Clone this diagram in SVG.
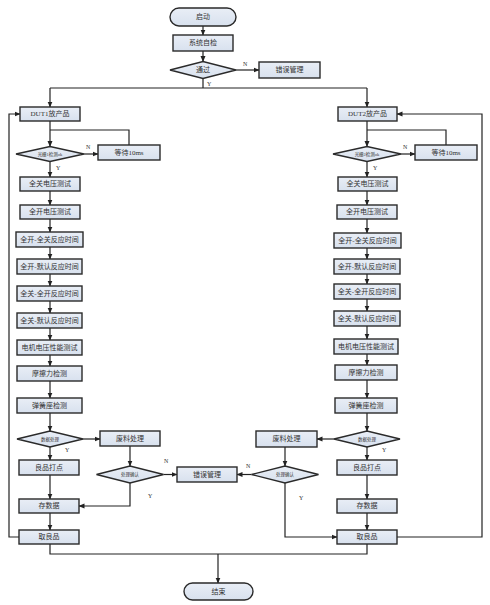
<svg xmlns="http://www.w3.org/2000/svg" width="490" height="605" viewBox="0 0 490 605">
<defs>
<linearGradient id="g" x1="0" y1="0" x2="0" y2="1">
<stop offset="0" stop-color="#e9eef6"/>
<stop offset="1" stop-color="#d8e1ee"/>
</linearGradient>
<marker id="a" markerWidth="6" markerHeight="6" refX="5.5" refY="3" orient="auto" markerUnits="userSpaceOnUse">
<path d="M0,0.5 L6,3 L0,5.5 Z" fill="#222"/>
</marker>
<style>
.b{fill:url(#g);stroke:#2a2a2a;stroke-width:1.4}
.t{font-family:"Liberation Serif","Noto Sans CJK SC",serif;font-size:7px;fill:#333;text-anchor:middle;dominant-baseline:central}
.s{font-size:4.5px}
.l{font-family:"Liberation Serif","Noto Sans CJK SC",serif;font-size:6px;fill:#333}
.c{fill:none;stroke:#222;stroke-width:1.2}
.c.m{marker-end:url(#a)}
</style>
</defs>
<rect width="490" height="605" fill="#fff"/>

<g id="connectors">
<path class="c m" d="M203,26 V35"/>
<path class="c m" d="M203,51 V61.5"/>
<path class="c m" d="M236,70 H259"/>
<path class="c" d="M203,78.5 V88 M50,88 H367"/>
<path class="c m" d="M50,88 V107"/>
<path class="c m" d="M367,88 V107"/>
<!-- left column -->
<path class="c m" d="M50,121 V146.5"/>
<path class="c" d="M129,145 V130 H50"/>
<path class="c m" d="M84,154 H98"/>
<path class="c m" d="M50,161.5 V177"/>
<path class="c m" d="M50,191 V205"/>
<path class="c m" d="M50,219 V232"/>
<path class="c m" d="M50,247 V259"/>
<path class="c m" d="M50,274 V286"/>
<path class="c m" d="M50,301 V313"/>
<path class="c m" d="M50,328 V340"/>
<path class="c m" d="M50,355 V366"/>
<path class="c m" d="M50,381 V398"/>
<path class="c m" d="M50,413 V431"/>
<path class="c m" d="M83,439 H100"/>
<path class="c m" d="M50,447 V460"/>
<path class="c m" d="M50,475 V499"/>
<path class="c m" d="M50,513 V530"/>
<path class="c m" d="M130,446 V466"/>
<path class="c m" d="M163.5,474.5 H177"/>
<path class="c m" d="M130,483 V506 H79"/>
<path class="c m" d="M19,537 H9 V114 H20"/>
<path class="c" d="M50,544 V554 H367 V544"/>
<path class="c m" d="M218,554 V583"/>
<!-- right column -->
<path class="c m" d="M367,121 V146.5"/>
<path class="c" d="M446,145 V130 H367"/>
<path class="c m" d="M401,154 H415"/>
<path class="c m" d="M367,161.5 V177"/>
<path class="c m" d="M367,191 V205"/>
<path class="c m" d="M367,219 V233"/>
<path class="c m" d="M367,248 V259"/>
<path class="c m" d="M367,274 V284"/>
<path class="c m" d="M367,299 V311"/>
<path class="c m" d="M367,326 V339"/>
<path class="c m" d="M367,354 V365"/>
<path class="c m" d="M367,380 V398"/>
<path class="c m" d="M367,413 V431"/>
<path class="c m" d="M334,439 H317"/>
<path class="c m" d="M367,447 V460"/>
<path class="c m" d="M367,475 V499"/>
<path class="c m" d="M367,513 V530"/>
<path class="c m" d="M285,447 V466"/>
<path class="c m" d="M251.5,474.5 H237"/>
<path class="c m" d="M285,483 V537 H337"/>
<path class="c m" d="M397,537 H482 V114 H397"/>
<!-- labels -->
<text class="l" x="243" y="66">N</text>
<text class="l" x="207" y="86">Y</text>
<text class="l" x="86" y="149">N</text>
<text class="l" x="56" y="170">Y</text>
<text class="l" x="403" y="149">N</text>
<text class="l" x="373" y="170">Y</text>
<text class="l" x="65" y="452">Y</text>
<text class="l" x="382" y="452">Y</text>
<text class="l" x="164" y="463">N</text>
<text class="l" x="148" y="498">Y</text>
<text class="l" x="246" y="468">N</text>
<text class="l" x="299" y="500">Y</text>
</g>

<g id="start"><rect class="b" x="170" y="8" width="66" height="18" rx="9"/><text class="t" x="203" y="17">启动</text></g>
<g id="selfcheck"><rect class="b" x="173" y="35" width="60" height="16"/><text class="t" x="203" y="43">系统自检</text></g>
<g id="pass"><polygon class="b" points="170,70 203,61.5 236,70 203,78.5"/><text class="t" x="203" y="70">通过</text></g>
<g id="err-top"><rect class="b" x="259" y="62" width="61" height="16"/><text class="t" x="289.5" y="70">错误管理</text></g>

<g id="dut1"><rect class="b" x="20" y="107" width="60" height="14"/><text class="t" x="50" y="114">DUT1放产品</text></g>
<g id="grating1"><polygon class="b" points="16,154 50,146.5 84,154 50,161.5"/><text class="t s" x="50" y="154">光栅1检测ok</text></g>
<g id="wait1"><rect class="b" x="98" y="145" width="62" height="15"/><text class="t" x="129" y="152.5">等待10ms</text></g>
<g id="l1"><rect class="b" x="20" y="177" width="60" height="14"/><text class="t" x="50" y="184">全关电压测试</text></g>
<g id="l2"><rect class="b" x="20" y="205" width="60" height="14"/><text class="t" x="50" y="212">全开电压测试</text></g>
<g id="l3"><rect class="b" x="16" y="232" width="67" height="15"/><text class="t" x="49.5" y="239.5">全开-全关反应时间</text></g>
<g id="l4"><rect class="b" x="17" y="259" width="65" height="15"/><text class="t" x="49.5" y="266.5">全开-默认反应时间</text></g>
<g id="l5"><rect class="b" x="17" y="286" width="65" height="15"/><text class="t" x="49.5" y="293.5">全关-全开反应时间</text></g>
<g id="l6"><rect class="b" x="17" y="313" width="65" height="15"/><text class="t" x="49.5" y="320.5">全关-默认反应时间</text></g>
<g id="l7"><rect class="b" x="17" y="340" width="65" height="15"/><text class="t" x="49.5" y="347.5">电机电压性能测试</text></g>
<g id="l8"><rect class="b" x="17" y="366" width="65" height="15"/><text class="t" x="49.5" y="373.5">摩擦力检测</text></g>
<g id="l9"><rect class="b" x="17" y="398" width="65" height="15"/><text class="t" x="49.5" y="405.5">弹簧座检测</text></g>
<g id="data1"><polygon class="b" points="17,439 50,431 83,439 50,447"/><text class="t s" x="50" y="439">数据处理</text></g>
<g id="scrap1"><rect class="b" x="100" y="431" width="60" height="15"/><text class="t" x="130" y="438.5">废料处理</text></g>
<g id="confirm1"><polygon class="b" points="96.5,474.5 130,466 163.5,474.5 130,483"/><text class="t s" x="130" y="474.5">处理确认</text></g>
<g id="good1"><rect class="b" x="19" y="460" width="60" height="15"/><text class="t" x="49" y="467.5">良品打点</text></g>
<g id="save1"><rect class="b" x="19" y="499" width="60" height="14"/><text class="t" x="49" y="506">存数据</text></g>
<g id="take1"><rect class="b" x="19" y="530" width="60" height="14"/><text class="t" x="49" y="537">取良品</text></g>

<g id="err-mid"><rect class="b" x="177" y="467" width="60" height="15"/><text class="t" x="207" y="474.5">错误管理</text></g>

<g id="dut2"><rect class="b" x="338" y="107" width="59" height="14"/><text class="t" x="367.5" y="114">DUT2放产品</text></g>
<g id="grating2"><polygon class="b" points="333,154 367,146.5 401,154 367,161.5"/><text class="t s" x="367" y="154">光栅2检测ok</text></g>
<g id="wait2"><rect class="b" x="415" y="145" width="62" height="15"/><text class="t" x="446" y="152.5">等待10ms</text></g>
<g id="r1"><rect class="b" x="338" y="177" width="59" height="14"/><text class="t" x="367.5" y="184">全关电压测试</text></g>
<g id="r2"><rect class="b" x="337" y="205" width="60" height="14"/><text class="t" x="367" y="212">全开电压测试</text></g>
<g id="r3"><rect class="b" x="334" y="233" width="67" height="15"/><text class="t" x="367.5" y="240.5">全开-全关反应时间</text></g>
<g id="r4"><rect class="b" x="334" y="259" width="66" height="15"/><text class="t" x="367" y="266.5">全开-默认反应时间</text></g>
<g id="r5"><rect class="b" x="334" y="284" width="66" height="15"/><text class="t" x="367" y="291.5">全关-全开反应时间</text></g>
<g id="r6"><rect class="b" x="334" y="311" width="66" height="15"/><text class="t" x="367" y="318.5">全关-默认反应时间</text></g>
<g id="r7"><rect class="b" x="334" y="339" width="64" height="15"/><text class="t" x="366" y="346.5">电机电压性能测试</text></g>
<g id="r8"><rect class="b" x="335" y="365" width="62" height="15"/><text class="t" x="366" y="372.5">摩擦力检测</text></g>
<g id="r9"><rect class="b" x="335" y="398" width="62" height="15"/><text class="t" x="366" y="405.5">弹簧座检测</text></g>
<g id="data2"><polygon class="b" points="334,439 367,431 400,439 367,447"/><text class="t s" x="367" y="439">数据处理</text></g>
<g id="scrap2"><rect class="b" x="256" y="431" width="61" height="16"/><text class="t" x="286.5" y="439">废料处理</text></g>
<g id="confirm2"><polygon class="b" points="251.5,474.5 285,466 318.5,474.5 285,483"/><text class="t s" x="285" y="474.5">处理确认</text></g>
<g id="good2"><rect class="b" x="337" y="460" width="60" height="15"/><text class="t" x="367" y="467.5">良品打点</text></g>
<g id="save2"><rect class="b" x="337" y="499" width="60" height="14"/><text class="t" x="367" y="506">存数据</text></g>
<g id="take2"><rect class="b" x="337" y="530" width="60" height="14"/><text class="t" x="367" y="537">取良品</text></g>

<g id="end"><rect class="b" x="184" y="583" width="69" height="17" rx="8.5"/><text class="t" x="218.5" y="591.5">结束</text></g>
</svg>
